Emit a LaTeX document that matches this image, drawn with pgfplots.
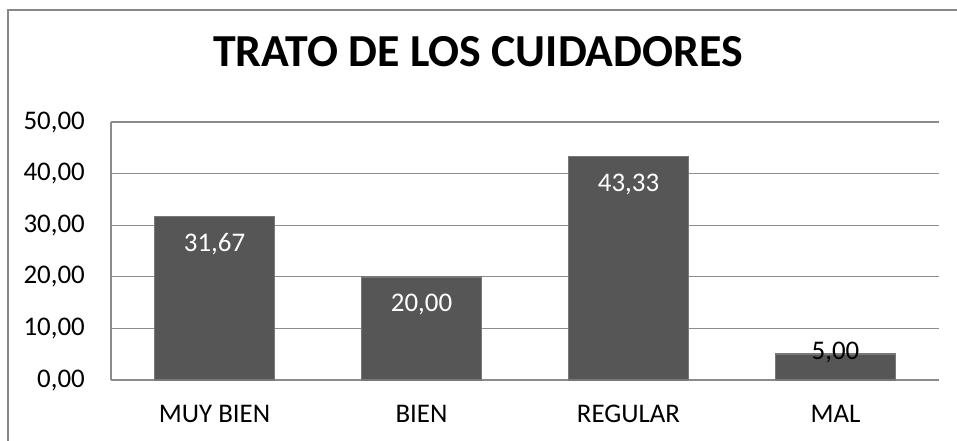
\documentclass[border=0pt]{standalone}
\usepackage{pgfplots}
\pgfplotsset{compat=1.18}
\usepackage{fontspec}
\setmainfont{Carlito}
\definecolor{barfill}{RGB}{86,86,86}
\definecolor{baredge}{RGB}{120,120,120}
\definecolor{gridc}{RGB}{140,140,140}
\definecolor{framec}{RGB}{136,136,136}
\begin{document}
\begin{tikzpicture}
\path[use as bounding box] (0,0) rectangle (957bp,441bp);
\draw[framec, line width=1.2bp] (8bp,-2bp) -- (8bp,431bp) -- (960bp,431bp);
\node[font=\bfseries\fontsize{46}{54}\selectfont] at (478bp,389bp) {TRATO DE LOS CUIDADORES};
\begin{axis}[
  at={(111bp,61bp)}, anchor=south west,
  scale only axis, width=828bp, height=258bp,
  xmin=-0.5, xmax=3.5, ymin=0, ymax=50,
  xtick={0,1,2,3}, xticklabels={MUY BIEN, BIEN, REGULAR, MAL},
  ytick={0,10,20,30,40,50},
  axis line style={draw=none},
  axis x line*=bottom, axis y line*=left,
  major tick length=0pt,
  ymajorgrids, grid style={gridc, line width=1.2bp},
  /pgf/number format/assume math mode=true,
  yticklabel={\pgfmathprintnumber[fixed, fixed zerofill, precision=2, use comma]{\tick}},
  tick label style={font=\fontsize{27}{32}\selectfont, inner sep=0pt},
  xticklabel style={anchor=center, yshift=-34bp},
  yticklabel style={anchor=east, xshift=-26bp},
  ybar, bar width=120bp, bar shift=0pt,
  clip=false,
  nodes near coords={\pgfmathprintnumber[fixed, fixed zerofill, precision=2, use comma, assume math mode=true]{\pgfplotspointmeta}},
  every node near coord/.append style={font=\fontsize{27}{32}\selectfont, anchor=center},
]
\draw[gridc, line width=1.2bp] (axis cs:-0.5,0) -- (axis cs:-0.5,50);
\addplot[fill=barfill, draw=baredge, line width=1.5bp,
  every node near coord/.append style={text=white, yshift=-28bp}]
  coordinates {(0,31.67) (1,20.00) (2,43.33)};
\addplot[fill=barfill, draw=baredge, line width=1.5bp,
  every node near coord/.append style={text=black, yshift=2bp}]
  coordinates {(3,5.00)};
\end{axis}
\end{tikzpicture}
\end{document}
